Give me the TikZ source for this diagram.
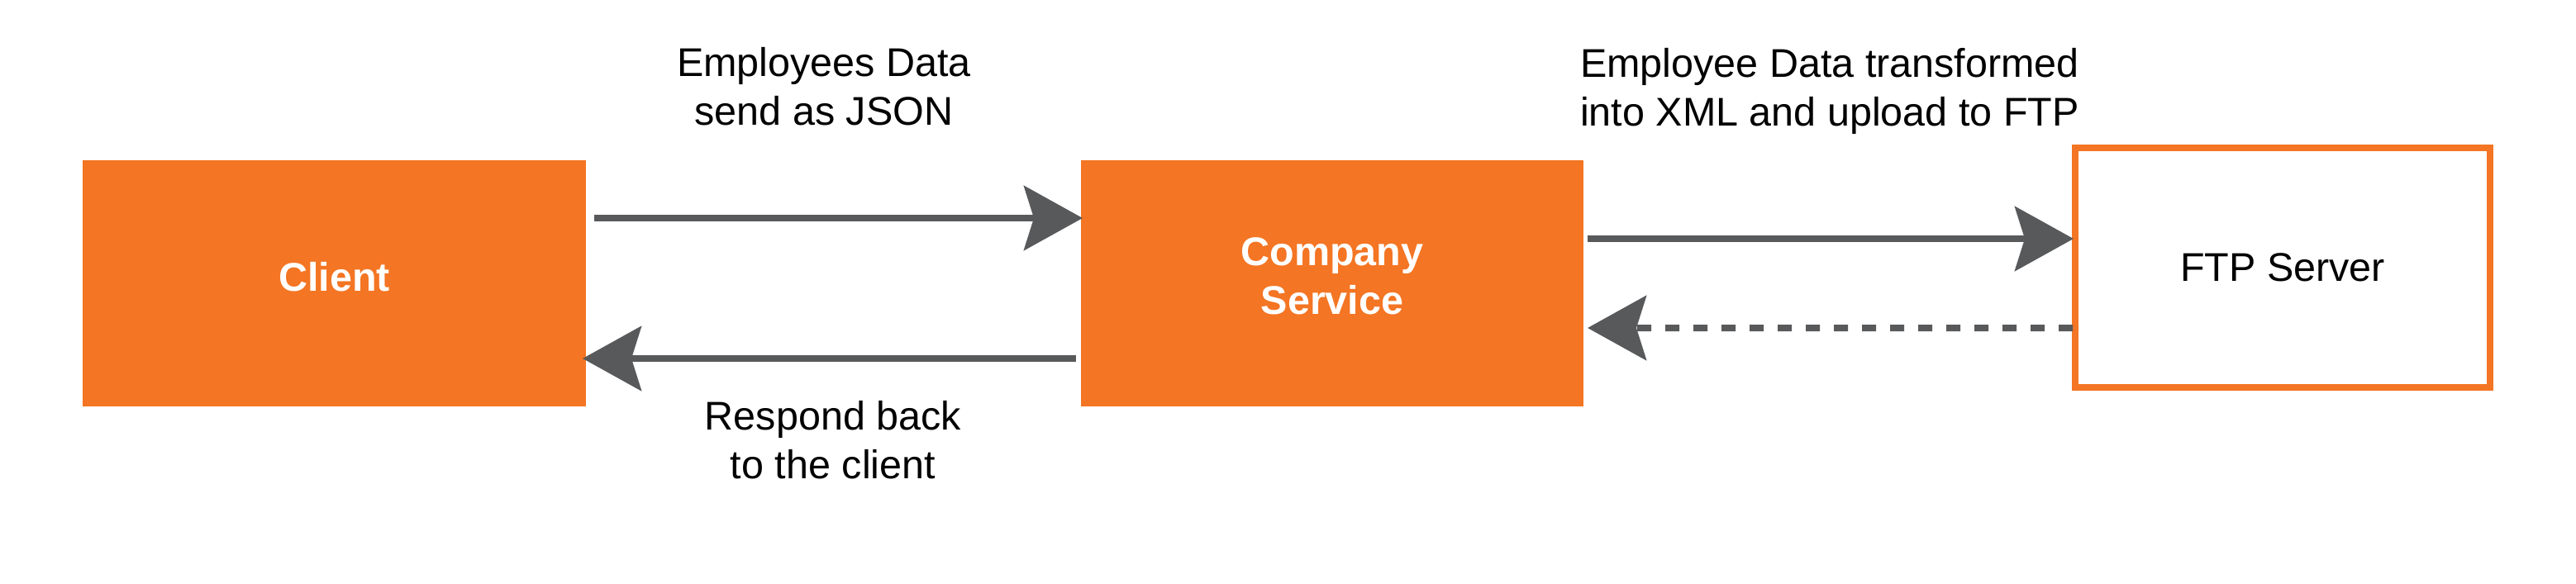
\documentclass[tikz,border=0pt]{standalone}
\usepackage{fontspec}
\setmainfont{Liberation Sans}
\usepackage{xcolor}
\usetikzlibrary{positioning, arrows.meta}
\definecolor{boxorange}{HTML}{F47523}
\definecolor{arrowgray}{HTML}{58595B}

\begin{document}
\begin{tikzpicture}[every node/.style={font=\fontsize{13.8}{16.8}\selectfont, inner sep=0, outer sep=0},
	block/.style={minimum width=6.09cm, minimum height=2.98cm, fill=boxorange, text=white, font=\fontsize{13.8}{16.8}\selectfont\bfseries, align=center, text depth=0.17cm},
	flow/.style={draw=arrowgray, line width=0.8mm, -{Stealth[length=7.1mm, width=7.8mm, inset=1.2mm]}}]
			\useasboundingbox (0,0) rectangle (31.17,-7.06);
			
			\node[block] (client) at (4.045,-3.43) {Client};
			\node[block, right=5.99cm of client, minimum width=6.08cm] (company) {Company\\Service};
			\node[draw=boxorange, line width=0.8mm, minimum width=5.02cm, minimum height=2.90cm, right=5.95cm of company, yshift=1.9mm] (ftp) {FTP Server};
			
			%% requests go right, answers come back left
			\draw[flow] ([xshift=1mm, yshift=7.9mm]client.east) -- ([xshift=0.2mm, yshift=7.9mm]company.west);
			\draw[flow] ([xshift=-0.6mm, yshift=-9.1mm]company.west) -- ([xshift=-0.4mm, yshift=-9.1mm]client.east);
			\draw[flow] ([xshift=0.5mm, yshift=5.4mm]company.east) -- ([xshift=-0.2mm, yshift=3.5mm]ftp.west);
			\draw[flow, dash pattern=on 1.7mm off 1.7mm] ([xshift=-0.3mm, yshift=-7.3mm]ftp.west) -- ([xshift=0.5mm, yshift=-5.4mm]company.east);
			
			\node[align=center] (jsonlbl) at (9.97,-1.05) {Employees Data\\send as JSON};
			\node[align=center] (xmllbl) at (22.14,-1.10) {Employee Data transformed\\into XML and upload to FTP};
			\node[align=center] (replbl) at (10.08,-5.33) {Respond back\\to the client};
			
\end{tikzpicture}
\end{document}
